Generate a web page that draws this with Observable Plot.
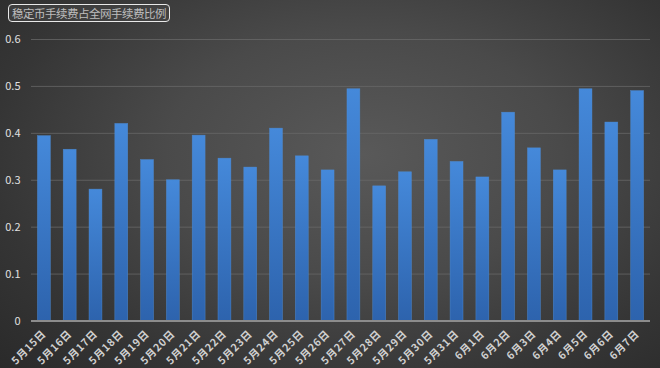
<!DOCTYPE html>
<html>
<head>
<meta charset="utf-8">
<script src="https://cdn.jsdelivr.net/npm/d3@7"></script>
<script src="https://cdn.jsdelivr.net/npm/@observablehq/plot@0.6"></script>
<style>
  html, body { margin: 0; padding: 0; }
  #wrap {
    position: relative; width: 660px; height: 368px; overflow: hidden;
    background: radial-gradient(ellipse 75% 85% at 55% 42%, #595959 0%, #4a4a4a 40%, #353535 75%, #2a2a2a 100%);
    font-family: "Noto Sans CJK SC", "Noto Sans", sans-serif;
  }
  #title {
    position: absolute; left: 8px; top: 4px;
    padding: 0 3px; height: 16px; line-height: 16px;
    border: 1px solid #e8e8e8; border-radius: 4px;
    color: #bdbdbd; font-size: 11.5px; background: rgba(70,70,70,0.6);
    letter-spacing: -0.5px;
  }
  svg { position: absolute; left: 0; top: 0; }
</style>
</head>
<body>
<div id="wrap"><div id="title">稳定币手续费占全网手续费比例</div></div>
<script>
const dates = ["5月15日","5月16日","5月17日","5月18日","5月19日","5月20日","5月21日","5月22日","5月23日","5月24日","5月25日","5月26日","5月27日","5月28日","5月29日","5月30日","5月31日","6月1日","6月2日","6月3日","6月4日","6月5日","6月6日","6月7日"];
const ratios = [0.394,0.365,0.280,0.420,0.343,0.300,0.395,0.346,0.327,0.410,0.351,0.321,0.494,0.287,0.317,0.386,0.339,0.306,0.444,0.368,0.321,0.494,0.423,0.490];
const yTicks = [0, 0.1, 0.2, 0.3, 0.4, 0.5, 0.6];
const yTickLabels = ["0", "0.1", "0.2", "0.3", "0.4", "0.5", "0.6"];

const data = dates.map((d, i) => ({date: d, value: ratios[i]}));

const chart = Plot.plot({
  width: 660,
  height: 368,
  marginTop: 39,
  marginBottom: 47.5,
  marginLeft: 31,
  marginRight: 10,
  style: {background: "transparent", color: "#dcdcdc", fontFamily: "'Noto Sans CJK SC', sans-serif"},
  x: {domain: dates, paddingInner: 0.5, paddingOuter: 0.25, round: false, label: null},
  y: {domain: [0, 0.6], label: null},
  marks: [
    Plot.gridY(yTicks, {stroke: "#6a6a6a", strokeOpacity: 0.75, strokeWidth: 1}),
    Plot.barY(data, {x: "date", y: "value", fill: "url(#barGrad)", stroke: "#4f8ed8", strokeWidth: 0.6, strokeOpacity: 0.7}),
    Plot.ruleY([0], {stroke: "#8c8c8c", strokeWidth: 2}),
    Plot.axisY(yTicks, {tickSize: 0, tickPadding: 11, tickFormat: (d, i) => yTickLabels[i], fontSize: 11, fill: "#e0e0e0"}),
    Plot.axisX({tickSize: 0, tickPadding: 11, tickRotate: -45, fontSize: 10.5, fontWeight: "bold", fill: "#d0d0d0"})
  ]
});

chart.querySelectorAll("[aria-label='x-axis tick label'] text").forEach(t => t.setAttribute("letter-spacing", "0.8"));

const ns = "http://www.w3.org/2000/svg";
const defs = document.createElementNS(ns, "defs");
defs.innerHTML = '<linearGradient id="barGrad" x1="0" y1="0" x2="0" y2="1"><stop offset="0%" stop-color="#4589da"/><stop offset="100%" stop-color="#2d63ad"/></linearGradient>';
chart.insertBefore(defs, chart.firstChild);
document.getElementById("wrap").appendChild(chart);
</script>
</body>
</html>
